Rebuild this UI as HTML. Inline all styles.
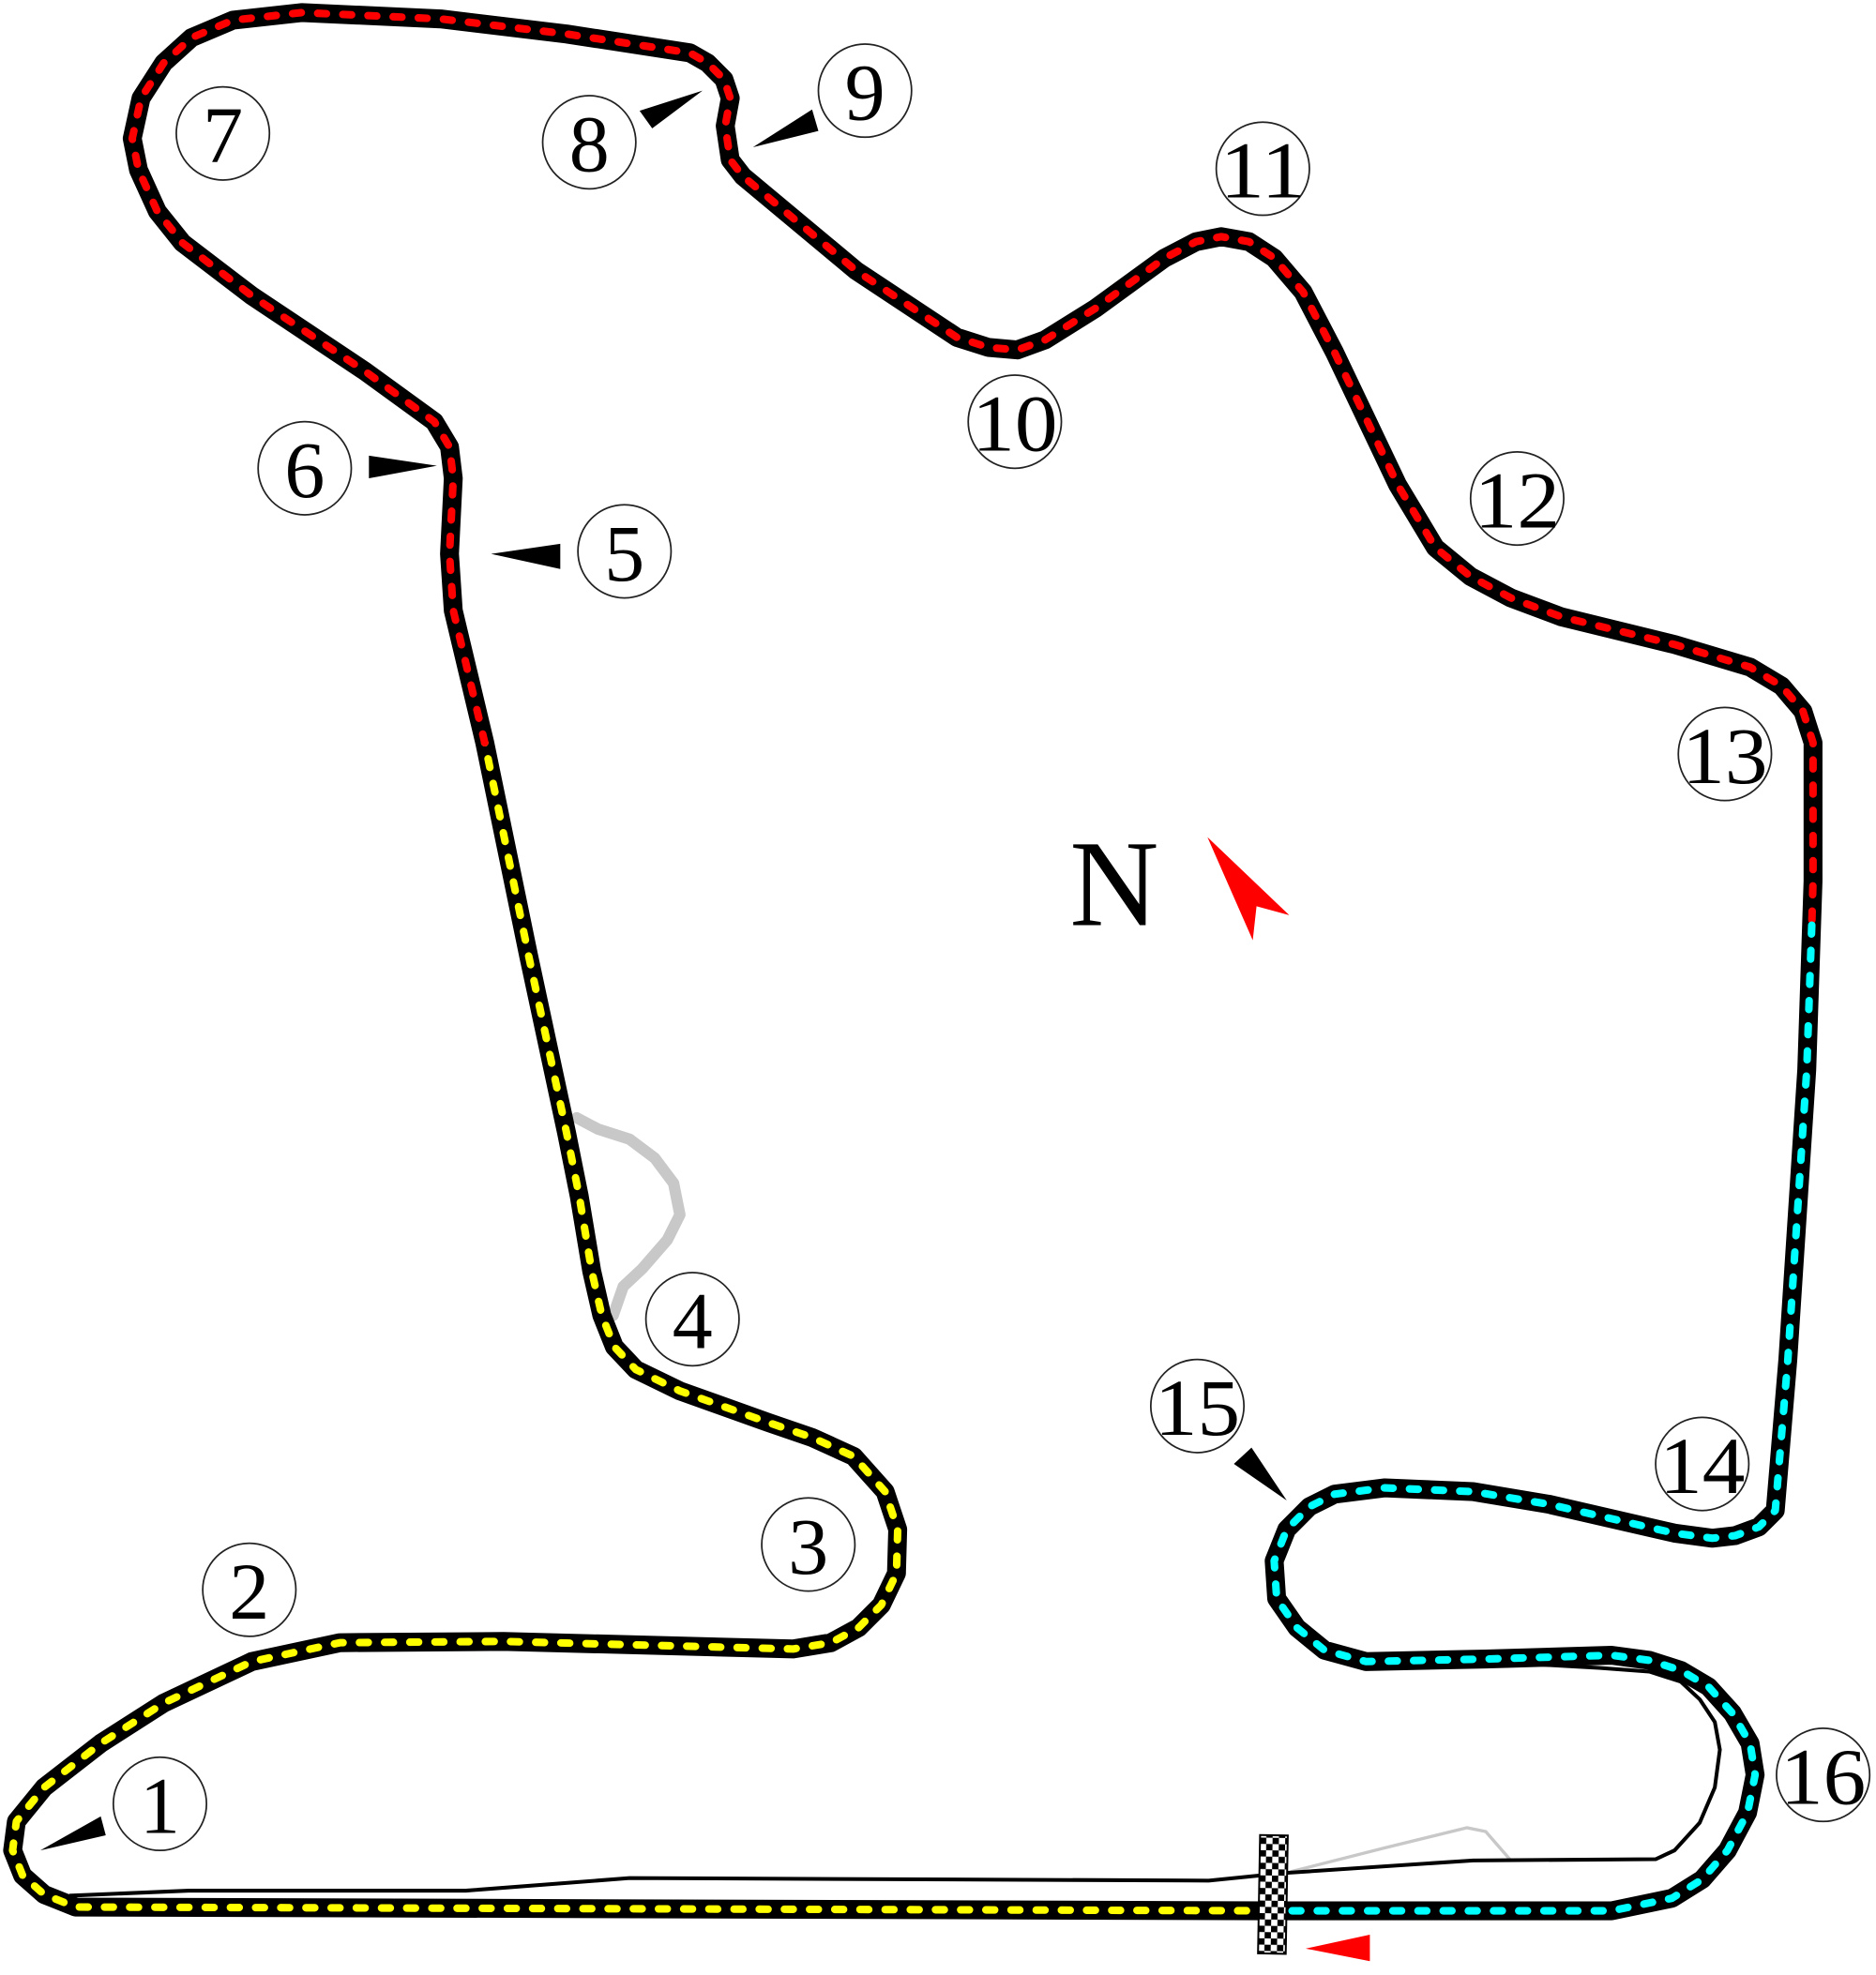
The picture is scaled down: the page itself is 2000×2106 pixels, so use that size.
<!DOCTYPE html>
<html><head><meta charset="utf-8"><style>html,body{margin:0;padding:0;background:#fff}svg{display:block}</style></head>
<body>
<svg width="2000" height="2106" viewBox="0 0 1490 1569" xmlns="http://www.w3.org/2000/svg">
<defs>
<pattern id="chk" width="10" height="10" patternUnits="userSpaceOnUse">
<rect width="10" height="10" fill="#fff"/><rect width="5" height="5" fill="#000"/><rect x="5" y="5" width="5" height="5" fill="#000"/>
</pattern>
</defs>
<!-- gray old section at turn 4 -->
<polyline fill="none" stroke="#c8c8c8" stroke-width="9" stroke-linejoin="round" stroke-linecap="round" points="458,888 475,897 500,905 520,920 535,940 540,965 530,985 510,1008 495,1022 487,1045"/>
<!-- thin inner lines -->
<polyline fill="none" stroke="#c8c8c8" stroke-width="2.5" stroke-linejoin="round" points="1025,1487 1100,1468 1165,1452 1180,1455 1200,1478"/>
<polyline fill="none" stroke="#000" stroke-width="3" stroke-linejoin="round" points="55,1506 150,1502 370,1502 500,1492 960,1494 1020,1488 1170,1478 1315,1477 1330,1470 1350,1448 1362,1420 1366,1390 1362,1368 1350,1350 1335,1336 1310,1328 1270,1325 1180,1320"/>
<!-- main track -->
<polyline id="trk" fill="none" stroke="#000" stroke-width="15" stroke-linejoin="round" stroke-linecap="round" points="1010,1518 60,1515 35,1505 18,1490 10,1470 13,1447 35,1420 80,1385 130,1353 200,1320 270,1305 400,1304 630,1310 660,1305 682,1293 700,1275 712,1250 713,1215 703,1185 678,1157 645,1142 610,1130 540,1105 505,1088 488,1070 478,1045 470,1010 460,950 450,900 420,760 385,590 360,485 357,440 360,380 357,355 345,335 290,295 200,235 145,193 125,168 110,135 105,110 112,78 130,50 152,30 185,16 240,10 350,15 450,27 548,42 562,50 575,63 580,78 576,100 580,127 590,140 680,215 760,268 785,276 808,278 830,270 870,245 925,205 950,192 970,188 992,192 1012,205 1035,232 1060,280 1110,385 1140,435 1168,458 1200,475 1240,490 1330,512 1390,530 1415,545 1432,565 1440,590 1440,700 1435,850 1420,1080 1410,1200 1397,1213 1378,1220 1360,1222 1330,1218 1230,1195 1170,1185 1100,1182 1060,1187 1040,1197 1022,1215 1012,1240 1014,1270 1030,1293 1052,1311 1085,1320 1180,1318 1280,1315 1310,1319 1335,1327 1357,1340 1376,1361 1390,1385 1394,1410 1388,1440 1372,1470 1352,1493 1328,1508 1280,1518 1010,1518"/>
<!-- colored dashes -->
<g fill="none" stroke-width="6" stroke-linejoin="round" stroke-linecap="round" stroke-dasharray="7 13">
<polyline stroke="#ffff00" points="1010,1518 60,1515 35,1505 18,1490 10,1470 13,1447 35,1420 80,1385 130,1353 200,1320 270,1305 400,1304 630,1310 660,1305 682,1293 700,1275 712,1250 713,1215 703,1185 678,1157 645,1142 610,1130 540,1105 505,1088 488,1070 478,1045 470,1010 460,950 450,900 420,760 385,590"/>
<polyline stroke="#ff0000" points="385,590 360,485 357,440 360,380 357,355 345,335 290,295 200,235 145,193 125,168 110,135 105,110 112,78 130,50 152,30 185,16 240,10 350,15 450,27 548,42 562,50 575,63 580,78 576,100 580,127 590,140 680,215 760,268 785,276 808,278 830,270 870,245 925,205 950,192 970,188 992,192 1012,205 1035,232 1060,280 1110,385 1140,435 1168,458 1200,475 1240,490 1330,512 1390,530 1415,545 1432,565 1440,590 1440,700 1439,735"/>
<polyline stroke="#00ffff" points="1439,735 1435,850 1420,1080 1410,1200 1397,1213 1378,1220 1360,1222 1330,1218 1230,1195 1170,1185 1100,1182 1060,1187 1040,1197 1022,1215 1012,1240 1014,1270 1030,1293 1052,1311 1085,1320 1180,1318 1280,1315 1310,1319 1335,1327 1357,1340 1376,1361 1390,1385 1394,1410 1388,1440 1372,1470 1352,1493 1328,1508 1280,1518 1010,1518"/>
</g>
<!-- checkered flag -->
<g transform="rotate(1 1011 1505)">
<rect x="1000" y="1458" width="22" height="94" fill="url(#chk)" stroke="#000" stroke-width="1.5"/>
</g>
<!-- arrows -->
<g fill="#000">
<polygon points="32,1470 80,1443 84,1458"/>
<polygon points="390,440 445,432 445,452"/>
<polygon points="293,362 347,370 293,380"/>
<polygon points="558,72 508,88 518,102"/>
<polygon points="598,117 645,87 650,104"/>
<polygon points="1022,1192 980,1163 994,1150"/>
</g>
<polygon fill="#ff0000" points="1037,1548 1088,1537 1088,1558"/>
<polygon fill="#ff0000" points="959,665 1024,727 998,720 995,747"/>
<text x="885" y="735" font-family="Liberation Serif, serif" font-size="98" text-anchor="middle">N</text>
<!-- corner labels -->
<g fill="none" stroke="#222" stroke-width="1.3">
<circle cx="127" cy="1433" r="37"/><circle cx="198" cy="1263" r="37"/><circle cx="642" cy="1227" r="37"/><circle cx="550" cy="1048" r="37"/>
<circle cx="496" cy="438" r="37"/><circle cx="242" cy="372" r="37"/><circle cx="177" cy="106" r="37"/><circle cx="468" cy="113" r="37"/>
<circle cx="687" cy="72" r="37"/><circle cx="806" cy="335" r="37"/><circle cx="1003" cy="134" r="37"/><circle cx="1205" cy="396" r="37"/>
<circle cx="1370" cy="599" r="37"/><circle cx="1352" cy="1163" r="37"/><circle cx="951" cy="1117" r="37"/><circle cx="1448" cy="1410" r="37"/>
</g>
<g font-family="Liberation Serif, serif" font-size="64" text-anchor="middle">
<text x="127" y="1456">1</text><text x="198" y="1286">2</text><text x="642" y="1250">3</text><text x="550" y="1071">4</text>
<text x="496" y="461">5</text><text x="242" y="395">6</text><text x="177" y="129">7</text><text x="468" y="136">8</text>
<text x="687" y="95">9</text><text x="806" y="358" textLength="68" lengthAdjust="spacingAndGlyphs">10</text><text x="1003" y="157" textLength="68" lengthAdjust="spacingAndGlyphs">11</text><text x="1205" y="419" textLength="68" lengthAdjust="spacingAndGlyphs">12</text>
<text x="1370" y="622" textLength="68" lengthAdjust="spacingAndGlyphs">13</text><text x="1352" y="1186" textLength="68" lengthAdjust="spacingAndGlyphs">14</text><text x="951" y="1140" textLength="68" lengthAdjust="spacingAndGlyphs">15</text><text x="1448" y="1433" textLength="68" lengthAdjust="spacingAndGlyphs">16</text>
</g>
</svg>
</body></html>
